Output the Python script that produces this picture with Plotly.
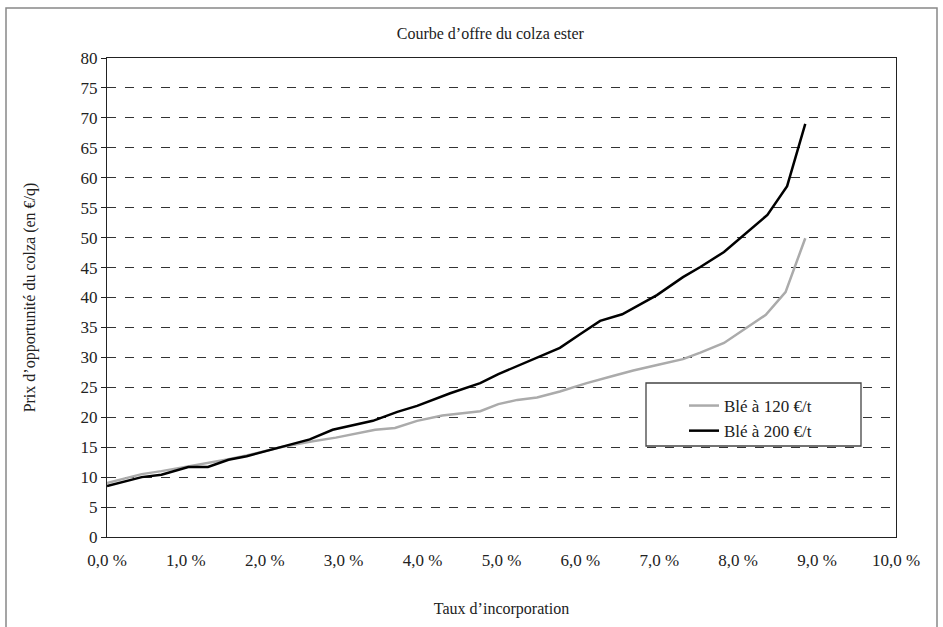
import plotly.graph_objects as go

# Data (x in % of incorporation, y in €/q)
x_ble120 = [0.0, 0.44, 0.69, 1.03, 1.28, 1.54, 1.77, 2.2, 2.57, 2.9, 3.4, 3.65, 3.93, 4.25,
            4.73, 4.96, 5.2, 5.45, 5.74, 6.08, 6.41, 6.67, 7.0, 7.3, 7.52, 7.82, 8.35, 8.6, 8.85]
y_ble120 = [9.0, 10.5, 11.0, 11.8, 12.3, 13.0, 13.6, 15.0, 15.9, 16.6, 17.9, 18.2, 19.4, 20.3,
            21.0, 22.2, 22.9, 23.3, 24.3, 25.7, 26.9, 27.8, 28.8, 29.7, 30.8, 32.4, 37.1, 40.9, 49.9]

x_ble200 = [0.0, 0.44, 0.69, 1.03, 1.28, 1.54, 1.77, 2.2, 2.57, 2.86, 3.37, 3.68, 3.93, 4.35,
            4.73, 4.96, 5.23, 5.45, 5.74, 6.0, 6.25, 6.53, 6.97, 7.3, 7.52, 7.82, 8.37, 8.62, 8.85]
y_ble200 = [8.5, 10.0, 10.4, 11.7, 11.7, 12.9, 13.5, 15.0, 16.3, 17.9, 19.4, 20.9, 21.9, 24.0,
            25.7, 27.2, 28.7, 30.0, 31.6, 33.9, 36.1, 37.2, 40.4, 43.4, 45.1, 47.6, 53.8, 58.6, 69.0]

x_tickvals = [0, 1, 2, 3, 4, 5, 6, 7, 8, 9, 10]
x_ticktext = ["0,0 %", "1,0 %", "2,0 %", "3,0 %", "4,0 %", "5,0 %", "6,0 %", "7,0 %", "8,0 %", "9,0 %", "10,0 %"]
y_tickvals = list(range(0, 85, 5))

FONT = "Liberation Serif"
TXT = "#222222"

# plot-area pixel geometry helpers
L, T, W, H = 107, 58, 789, 479


def px_x(p):
    return (p - L) / W


def px_y(p):
    return (T + H - p) / H


fig = go.Figure()
fig.add_trace(go.Scatter(x=x_ble120, y=y_ble120, mode="lines", name="Blé à 120 €/t",
                         line=dict(color="#ababab", width=2.5)))
fig.add_trace(go.Scatter(x=x_ble200, y=y_ble200, mode="lines", name="Blé à 200 €/t",
                         line=dict(color="#000000", width=2.5)))

fig.update_layout(
    width=943, height=627,
    margin=dict(l=L, r=943 - L - W, t=T, b=627 - T - H, autoexpand=False),
    paper_bgcolor="white", plot_bgcolor="white",
    font=dict(family=FONT, size=17, color=TXT),
    title=dict(text="Courbe d’offre du colza ester", x=0.52, xanchor="center",
               y=1 - 33 / 627, yanchor="middle", font=dict(family=FONT, size=16, color=TXT)),
    showlegend=True,
    legend=dict(x=px_x(684), y=px_y(388), xanchor="left", yanchor="top",
                borderwidth=0, bgcolor="rgba(0,0,0,0)",
                font=dict(family=FONT, size=17, color=TXT)),
    xaxis=dict(range=[0, 10], tickvals=x_tickvals, ticktext=x_ticktext,
               showgrid=False, zeroline=False, showline=True, linecolor="#222222",
               linewidth=1, mirror=True, ticks="", ticklabelstandoff=8, automargin=False,
               tickfont=dict(family=FONT, size=17, color=TXT),
               title=dict(text="Taux d’incorporation", standoff=33,
                          font=dict(family=FONT, size=16, color=TXT))),
    yaxis=dict(range=[0, 80], tickvals=y_tickvals, showgrid=True, gridcolor="#333333",
               griddash="dash", gridwidth=1, zeroline=False, showline=True,
               linecolor="#222222", linewidth=1, mirror=True, ticks="outside",
               ticklen=5, tickcolor="#222222", automargin=False,
               tickfont=dict(family=FONT, size=17, color=TXT),
               title=dict(text="Prix d’opportunité du colza (en €/q)", standoff=40,
                          font=dict(family=FONT, size=16, color=TXT))),
    shapes=[
        dict(type="rect", xref="paper", yref="paper",
             x0=px_x(6), x1=px_x(937), y0=px_y(700), y1=px_y(8),
             line=dict(color="#888888", width=1.5), fillcolor="rgba(0,0,0,0)", layer="below"),
        dict(type="rect", xref="paper", yref="paper",
             x0=px_x(646), x1=px_x(861), y0=px_y(446), y1=px_y(383),
             line=dict(color="#444444", width=1.3), fillcolor="white", layer="above"),
    ],
)

fig.write_html("out.html", config={"displayModeBar": False},
               post_script="document.body.style.margin='0';document.body.style.overflow='hidden';")
